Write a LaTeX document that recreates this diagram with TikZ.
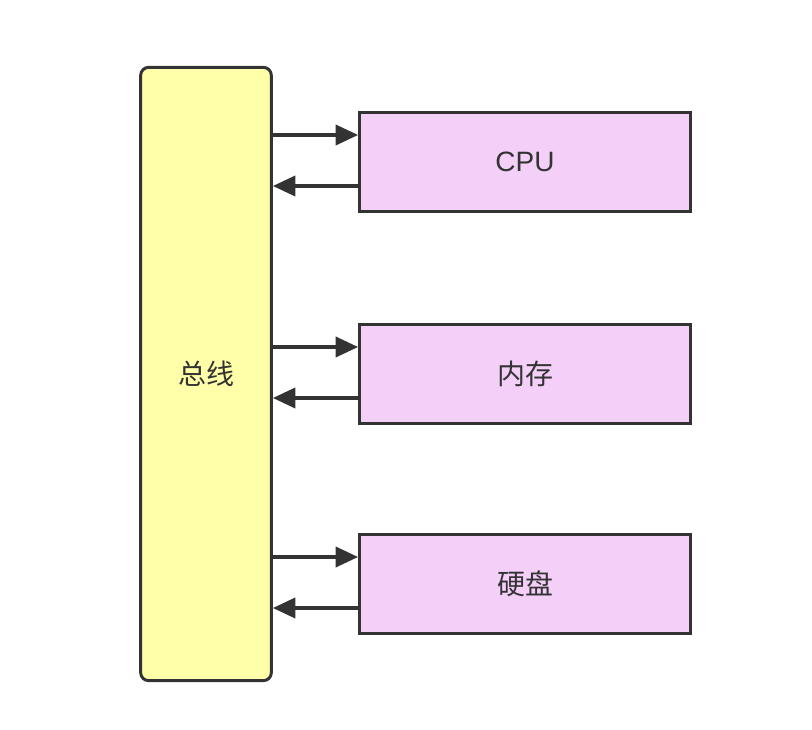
\documentclass[tikz,border=0pt]{standalone}
\usepackage{fontspec}
\setmainfont{Liberation Sans}
\newfontfamily\cjk{Noto Sans CJK SC}
\usetikzlibrary{arrows.meta,calc}
\definecolor{edge}{HTML}{333333}
\definecolor{busfill}{HTML}{FFFFAA}
\definecolor{devfill}{HTML}{F4D0F9}
\tikzset{
  unit/.style={draw=edge,line width=2.2pt,fill=devfill,minimum width=248pt,
    minimum height=74pt,inner sep=0pt,font=\cjk\fontsize{21}{21}\selectfont,text=edge},
  arr/.style={draw=edge,line width=3pt,-{Triangle[length=17pt,width=15pt]}}
}
\begin{document}
\begin{tikzpicture}[x=0.75pt,y=-0.75pt]
  \useasboundingbox (0,0) rectangle (812,730);

  \node[draw=edge,line width=2.2pt,fill=busfill,rounded corners=6pt,
    minimum width=98pt,minimum height=460pt,inner sep=0pt,
    font=\cjk\fontsize{21}{21}\selectfont,text=edge] (bus) at (206,374) {总线};

  \node[unit] (cpu)  at (525,162) {\rmfamily CPU};
  \node[unit] (mem)  at (525,374) {内存};
  \node[unit] (disk) at (525,584) {硬盘};

  % to the devices and back
  \foreach \dev in {cpu,mem,disk}{
    \draw[arr] (bus.east |- {$(\dev.west)+(0,-27)$}) -- ($(\dev.west)+(0,-27)$);
    \draw[arr] ($(\dev.west)+(0,24)$) -- (bus.east |- {$(\dev.west)+(0,24)$});
  }
\end{tikzpicture}
\end{document}
